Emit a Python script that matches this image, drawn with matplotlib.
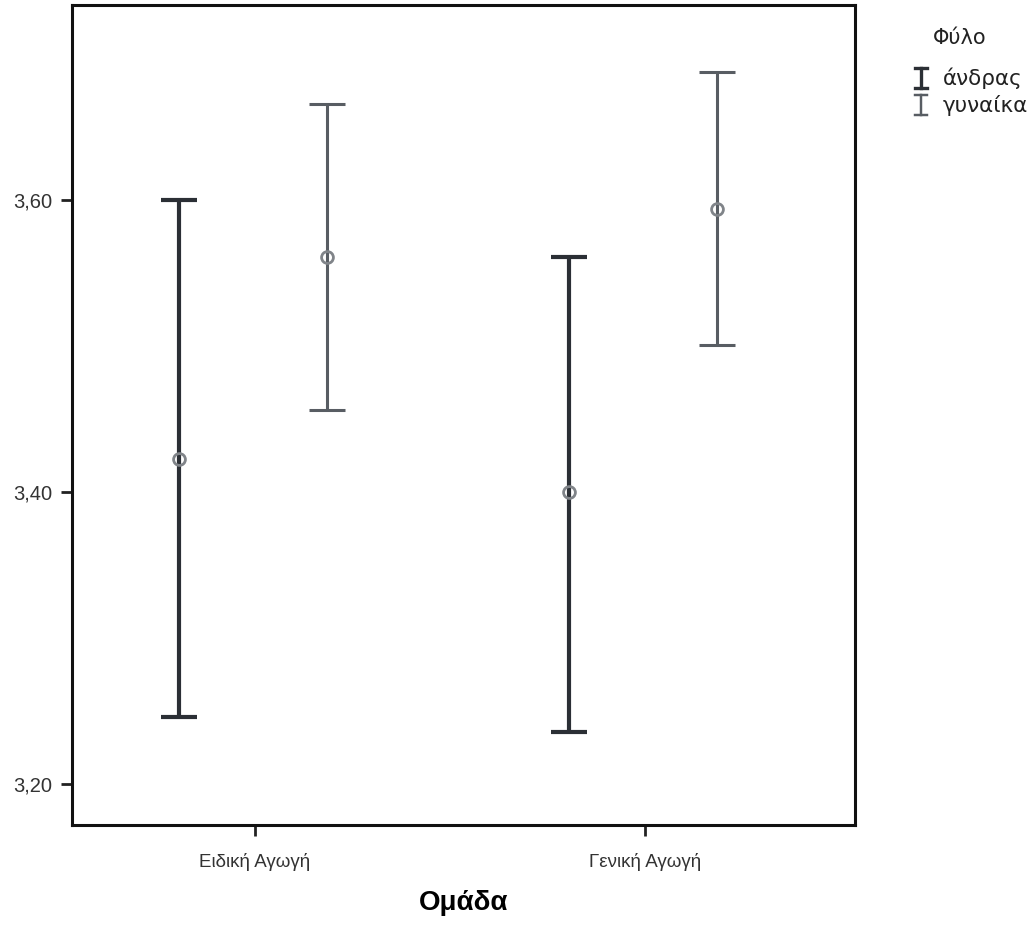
import matplotlib
matplotlib.use("Agg")
import matplotlib.pyplot as plt
from matplotlib.lines import Line2D

groups = ["Ειδική Αγωγή", "Γενική Αγωγή"]
sexes = ["άνδρας", "γυναίκα"]

# mean and 95% CI bounds per sex, one value per group
means = {"άνδρας": [3.423, 3.400], "γυναίκα": [3.561, 3.594]}
lower = {"άνδρας": [3.246, 3.236], "γυναίκα": [3.456, 3.501]}
upper = {"άνδρας": [3.600, 3.561], "γυναίκα": [3.666, 3.688]}

y_ticks = [3.20, 3.40, 3.60]
y_labels = ["3,20", "3,40", "3,60"]

colors = {"άνδρας": "#2b2f35", "γυναίκα": "#585d63"}
widths = {"άνδρας": 3.0, "γυναίκα": 2.2}
offsets = {"άνδρας": -0.195, "γυναίκα": 0.185}

fig = plt.figure(figsize=(10.33, 9.25), dpi=100)
ax = fig.add_axes([72 / 1033, 100 / 925, (855 - 72) / 1033, (825 - 5) / 925])

for s in sexes:
    xs = [i + offsets[s] for i in range(len(groups))]
    m = means[s]
    err = [[mi - lo for mi, lo in zip(m, lower[s])],
           [hi - mi for mi, hi in zip(m, upper[s])]]
    ax.errorbar(xs, m, yerr=err, fmt="none", ecolor=colors[s],
                elinewidth=widths[s], capsize=13, capthick=widths[s])
    ax.plot(xs, m, "o", mfc="none", mec="#808489", mew=2.0, ms=8.5, zorder=3)

ax.set_xlim(-0.47, 1.54)
ax.set_ylim(3.172, 3.7336)
ax.set_xticks(range(len(groups)))
ax.set_xticklabels(groups, fontsize=13.5, family="Liberation Sans", color="#333333")
ax.set_yticks(y_ticks)
ax.set_yticklabels(y_labels, fontsize=14.5, family="Liberation Sans", color="#333333")
ax.tick_params(axis="both", length=8, width=2, color="#222222", pad=6)
ax.tick_params(axis="x", pad=12)
ax.set_xlabel("Ομάδα", fontsize=20, fontweight="bold", family="Liberation Sans",
              labelpad=14)
for sp in ax.spines.values():
    sp.set_linewidth(2.2)
    sp.set_color("#111111")

# legend drawn by hand in figure pixels
def px(x, y):
    return x / 1033, 1 - y / 925

fig.text(*px(933, 38), "Φύλο", fontsize=15, va="center", ha="left",
         family="DejaVu Sans", color="#222222")
for k, s in enumerate(sexes):
    yc = 78 + k * 27
    x0 = 921
    lw = widths[s] * 0.8
    fig.add_artist(Line2D([px(x0, 0)[0]] * 2, [px(0, yc - 10)[1], px(0, yc + 10)[1]],
                          color=colors[s], lw=lw, transform=fig.transFigure))
    for yy in (yc - 10, yc + 10):
        fig.add_artist(Line2D([px(x0 - 6, 0)[0], px(x0 + 6, 0)[0]], [px(0, yy)[1]] * 2,
                              color=colors[s], lw=lw, transform=fig.transFigure))
    fig.text(*px(943, yc), s, fontsize=15.5, va="center", ha="left",
             family="DejaVu Sans", color="#222222")

fig.savefig("out.png", dpi=100, facecolor="white")
